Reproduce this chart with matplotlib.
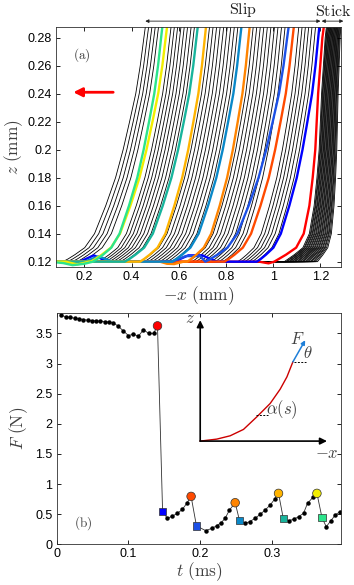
import matplotlib
matplotlib.use("Agg")
import matplotlib.pyplot as plt
import numpy as np
from matplotlib.ticker import FuncFormatter

plt.rcParams["font.family"] = ["Liberation Sans", "DejaVu Sans"]
plt.rcParams["mathtext.fontset"] = "cm"

# ---------------- panel (a): filament shapes ----------------
# heights (mm) and horizontal offset behind the top point
PROFILE_Z = [0.290, 0.2875, 0.28, 0.26, 0.24, 0.22, 0.20, 0.18, 0.16, 0.14, 0.13, 0.125, 0.122, 0.12]
SLIP_OFFSET = [-0.002, 0.0, 0.005, 0.018, 0.034, 0.056, 0.079, 0.106, 0.141, 0.181, 0.216, 0.251, 0.275, 0.294]
STICK_OFFSET = [-0.001, 0.0, 0.006, 0.015, 0.024, 0.030, 0.036, 0.047, 0.061, 0.085, 0.117, 0.160, 0.190, 0.210]

# top positions (-x at z = 0.2875) of the thin black curves
SLIP_TOPS = [0.458, 0.472, 0.486, 0.500, 0.514,
             0.567, 0.581, 0.595, 0.609, 0.623, 0.637, 0.652, 0.666,
             0.730, 0.745, 0.760, 0.775, 0.790, 0.805, 0.820, 0.835, 0.850,
             0.915, 0.930, 0.945, 0.960, 0.975, 0.990, 1.005, 1.020, 1.035, 1.050,
             1.108, 1.122, 1.136, 1.150, 1.164, 1.179]
STICK_TOPS = [1.225, 1.228, 1.230, 1.233, 1.235, 1.238, 1.240, 1.243, 1.245, 1.248,
              1.250, 1.253, 1.255, 1.258, 1.260, 1.263, 1.265, 1.268, 1.270, 1.273,
              1.275, 1.278, 1.280, 1.283, 1.286]
# spread of the black curves at a few top positions
SLIP_SPREAD_AT = [0.45, 0.55, 1.20]
SLIP_SPREAD = [1.2, 1.05, 0.85]
STICK_SPREAD_AT = [1.225, 1.286]
STICK_SPREAD = [0.85, 0.47]

# highlighted curves, in time order
COLOR_TOPS = [1.214, 1.195, 1.087, 1.065, 0.900, 0.865, 0.715, 0.680, 0.550, 0.530]
COLOR_SPREAD = [1.0, 0.9, 1.0, 1.2, 0.9, 1.0, 0.95, 1.05, 1.1, 1.0]
CURVE_COLORS = ["#FF0000", "#0000FF", "#FF4A00", "#1C50E6", "#FF8400",
                "#0A88C8", "#FFB400", "#18B49C", "#F2EE00", "#2CE48C"]
# wiggles of the part lying on the substrate
FEET = [
    [(0.98, 0.1188), (0.94, 0.12)],
    [(0.76, 0.12), (0.70, 0.1245), (0.64, 0.1245), (0.58, 0.12), (0.30, 0.12), (0.24, 0.1245), (0.18, 0.12)],
    [],
    [(0.75, 0.12), (0.69, 0.124), (0.63, 0.124), (0.57, 0.12)],
    [(0.62, 0.12), (0.58, 0.1183), (0.55, 0.1185), (0.52, 0.12)],
    [(0.32, 0.12), (0.26, 0.1238), (0.20, 0.12)],
    [],
    [],
    [(0.22, 0.12), (0.17, 0.1180), (0.12, 0.12)],
    [(0.20, 0.1185), (0.15, 0.1175), (0.11, 0.119)],
]

# ---------------- panel (b): force trace ----------------
T_TRACE = [0.006, 0.0125, 0.019, 0.025, 0.031, 0.037, 0.043, 0.049, 0.055, 0.061,
           0.067, 0.073, 0.079, 0.086, 0.093, 0.100, 0.107, 0.114, 0.121, 0.128,
           0.135, 0.1405, 0.1476, 0.1543, 0.1613, 0.1683, 0.1752, 0.1813, 0.1873,
           0.1948, 0.2078, 0.2162, 0.2232, 0.2292, 0.2347, 0.2408, 0.2487,
           0.2548, 0.2626, 0.2687, 0.2766, 0.2835, 0.2905, 0.2975, 0.3035, 0.3091,
           0.3157, 0.3230, 0.3300, 0.3370, 0.3439, 0.3495, 0.3570, 0.3626,
           0.3697, 0.3756, 0.3821, 0.3881, 0.3945]
F_TRACE = [3.80, 3.78, 3.765, 3.753, 3.742, 3.731, 3.72, 3.714, 3.709, 3.703,
           3.698, 3.687, 3.675, 3.62, 3.54, 3.466, 3.488, 3.454, 3.565, 3.50,
           3.50, 3.626, 0.542, 0.431, 0.469, 0.514, 0.580, 0.680, 0.795,
           0.304, 0.226, 0.265, 0.309, 0.359, 0.431, 0.569, 0.690,
           0.392, 0.348, 0.375, 0.431, 0.497, 0.569, 0.652, 0.746, 0.845,
           0.431, 0.392, 0.414, 0.458, 0.514, 0.680, 0.779, 0.845,
           0.44, 0.292, 0.392, 0.486, 0.54]
PEAK_T = [0.1405, 0.1873, 0.2487, 0.3091, 0.3626]
PEAK_F = [3.626, 0.795, 0.690, 0.845, 0.845]
PEAK_COLORS = ["#FF0000", "#FF4A00", "#FF8400", "#FFB400", "#F2EE00"]
DROP_T = [0.1476, 0.1948, 0.2548, 0.3157, 0.3697]
DROP_F = [0.542, 0.304, 0.392, 0.431, 0.44]
DROP_COLORS = ["#0000FF", "#1C50E6", "#0A88C8", "#18B49C", "#2CE48C"]

# sketch of the filament drawn inside panel (b)
INSET_T = [0.2000, 0.2231, 0.2417, 0.2603, 0.2789, 0.2975, 0.3114, 0.3208, 0.3291]
INSET_F = [1.713, 1.746, 1.801, 1.907, 2.116, 2.338, 2.575, 2.779, 3.028]

LABEL = "#404040"


def fmt(v, pos):
    return f"{v:g}"


def style_axes(ax):
    ax.tick_params(direction="in", top=True, right=True, length=3, width=0.6,
                   labelsize=9, pad=3)
    for sp in ax.spines.values():
        sp.set_linewidth(0.6)
        sp.set_color("#303030")
    ax.xaxis.set_major_formatter(FuncFormatter(fmt))
    ax.yaxis.set_major_formatter(FuncFormatter(fmt))


def curve(top, spread, offsets, foot):
    xs = [top - spread * d for d in offsets]
    zs = list(PROFILE_Z)
    for fx, fz in foot:
        if fx < xs[-1]:
            xs.append(fx)
            zs.append(fz)
    xs.append(0.05)
    zs.append(0.12)
    return xs, zs


fig = plt.figure(figsize=(3.54, 5.85), dpi=100)
ax_a = fig.add_axes([0.159, 0.5436, 0.805, 0.410])
ax_b = fig.add_axes([0.160, 0.0696, 0.803, 0.3954])

# panel (a)
for top in SLIP_TOPS:
    s = np.interp(top, SLIP_SPREAD_AT, SLIP_SPREAD)
    xs, zs = curve(top, s, SLIP_OFFSET, [])
    ax_a.plot(xs, zs, color="black", lw=0.6)
for top in STICK_TOPS:
    s = np.interp(top, STICK_SPREAD_AT, STICK_SPREAD)
    xs, zs = curve(top, s, STICK_OFFSET, [])
    ax_a.plot(xs, zs, color="black", lw=0.6)
for i, (top, s, c, foot) in enumerate(zip(COLOR_TOPS, COLOR_SPREAD, CURVE_COLORS, FEET)):
    offsets = STICK_OFFSET if i == 0 else SLIP_OFFSET
    xs, zs = curve(top, s, offsets, foot)
    ax_a.plot(xs, zs, color=c, lw=1.7, solid_capstyle="round")

ax_a.set_xlim(0.081, 1.288)
ax_a.set_ylim(0.1162, 0.2875)
ax_a.set_xticks([0.2, 0.4, 0.6, 0.8, 1.0, 1.2])
ax_a.set_yticks([0.12, 0.14, 0.16, 0.18, 0.20, 0.22, 0.24, 0.26, 0.28])
style_axes(ax_a)
ax_a.set_xlabel(r"$-x\ (\mathrm{mm})$", fontsize=12.5, color=LABEL, labelpad=1)
ax_a.set_ylabel(r"$z\ (\mathrm{mm})$", fontsize=12.5, color=LABEL, labelpad=2)
ax_a.text(0.19, 0.2674, r"$\mathrm{(a)}$", fontsize=9.5, color=LABEL, ha="center", va="center")
ax_a.annotate("", xy=(0.153, 0.241), xytext=(0.322, 0.241),
              arrowprops=dict(arrowstyle="-|>", color="#FF0000", lw=2.0,
                              mutation_scale=13, shrinkA=0, shrinkB=0))
arrow_kw = dict(arrowstyle="<|-|>", color="#202020", lw=0.6, mutation_scale=5,
                shrinkA=0, shrinkB=0)
ax_a.annotate("", xy=(0.458, 0.2918), xytext=(1.200, 0.2918),
              arrowprops=arrow_kw, annotation_clip=False)
ax_a.annotate("", xy=(1.205, 0.2918), xytext=(1.297, 0.2918),
              arrowprops=arrow_kw, annotation_clip=False)
ax_a.text(0.87, 0.2933, r"$\mathrm{Slip}$", fontsize=11.5, color="#202020",
          ha="center", va="bottom", clip_on=False)
ax_a.text(1.256, 0.2933, r"$\mathrm{Stick}$", fontsize=11.5, color="#202020",
          ha="center", va="bottom", clip_on=False)

# panel (b)
ax_b.plot(T_TRACE, F_TRACE, color="#303030", lw=0.6, marker="o", ms=2.2,
          mfc="black", mec="black", zorder=2)
ax_b.scatter(PEAK_T, PEAK_F, s=38, c=PEAK_COLORS, marker="o",
             edgecolors="#303030", linewidths=0.5, zorder=3)
ax_b.scatter(DROP_T, DROP_F, s=26, c=DROP_COLORS, marker="s",
             edgecolors="#303030", linewidths=0.5, zorder=3)

head = dict(arrowstyle="-|>", color="black", lw=1.2, mutation_scale=10,
            shrinkA=0, shrinkB=0)
ax_b.annotate("", xy=(0.2, 3.72), xytext=(0.2, 1.713), arrowprops=head)
ax_b.annotate("", xy=(0.3766, 1.713), xytext=(0.2, 1.713), arrowprops=head)
ax_b.plot(INSET_T, INSET_F, color="#CC0000", lw=1.0)
ax_b.annotate("", xy=(0.3463, 3.388), xytext=(0.3291, 3.028),
              arrowprops=dict(arrowstyle="-|>", color="#1E7FD8", lw=1.1,
                              mutation_scale=6, shrinkA=0, shrinkB=0))
ax_b.plot([0.330, 0.348], [3.03, 3.03], color="black", lw=0.7, ls=(0, (2, 1.5)))
ax_b.plot([0.278, 0.295], [2.14, 2.14], color="black", lw=0.7, ls=(0, (2, 1.5)))
ax_b.text(0.186, 3.74, r"$z$", fontsize=12, color=LABEL, ha="center", va="center")
ax_b.text(0.3766, 1.50, r"$-x$", fontsize=12, color=LABEL, ha="center", va="center")
ax_b.text(0.3356, 3.40, r"$F$", fontsize=12, color=LABEL, ha="center", va="center")
ax_b.text(0.3495, 3.17, r"$\theta$", fontsize=12, color=LABEL, ha="center", va="center")
ax_b.text(0.3138, 2.227, r"$\alpha(s)$", fontsize=12, color=LABEL, ha="center", va="center")
ax_b.text(0.037, 0.35, r"$\mathrm{(b)}$", fontsize=9.5, color=LABEL, ha="center", va="center")

ax_b.set_xlim(0, 0.396)
ax_b.set_ylim(0, 3.84)
ax_b.set_xticks([0, 0.1, 0.2, 0.3])
ax_b.set_yticks([0, 0.5, 1, 1.5, 2, 2.5, 3, 3.5])
style_axes(ax_b)
ax_b.set_xlabel(r"$t\ (\mathrm{ms})$", fontsize=12.5, color=LABEL, labelpad=0)
ax_b.set_ylabel(r"$F\ (\mathrm{N})$", fontsize=12.5, color=LABEL, labelpad=4)

fig.savefig("out.png", dpi=100, facecolor="white")
